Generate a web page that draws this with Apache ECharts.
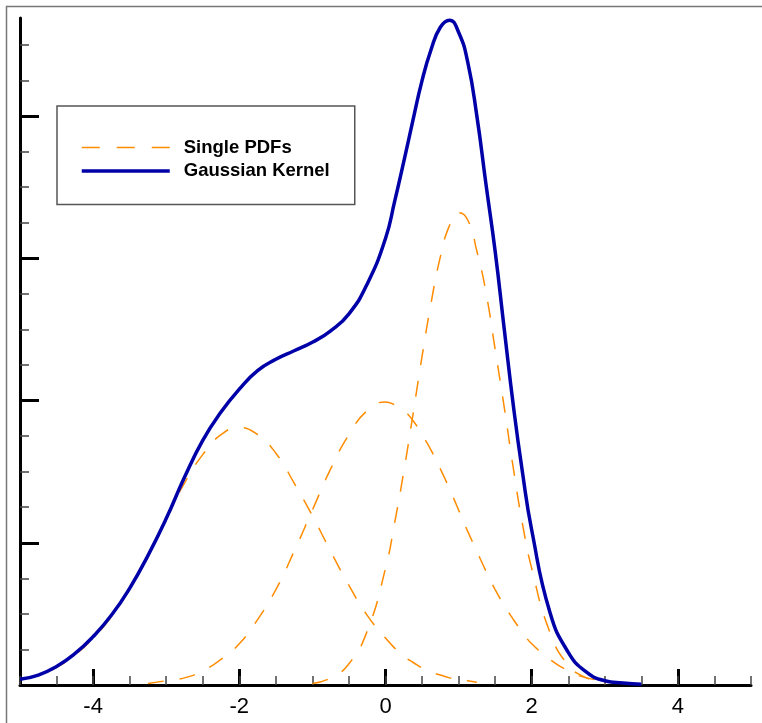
<!DOCTYPE html>
<html><head><meta charset="utf-8">
<script src="https://cdn.jsdelivr.net/npm/echarts@6/dist/echarts.min.js"></script>
<style>html,body{margin:0;padding:0;background:#fff}#c{width:762px;height:723px}</style>
</head><body><div id="c"></div>
<script>
// x positions (shared)
const xs = [-5,-4.75,-4.5,-4.25,-4,-3.75,-3.5,-3.25,-3,-2.75,-2.5,-2.25,-2,-1.75,-1.5,-1.25,-1,-0.75,-0.5,-0.25,0,
  0.125,0.25,0.375,0.5,0.625,0.75,0.875,1,1.125,1.25,1.375,1.5,1.625,1.75,1.875,2,
  2.25,2.5,2.75,3,3.25,3.5,3.75,4,4.25,4.5,4.75,5];
// single PDFs (dashed)
const pdfLeft = [0.004,0.007,0.0125,0.021,0.033,0.048,0.068,0.091,0.117,0.142,0.162,0.176,0.181,0.176,0.163,0.142,0.119,0.094,0.070,0.049,0.033,
  0.026,0.020,0.016,0.012,0.009,0.007,0.005,0.004,0.003,0.002,null,null,null,null,null,null,
  null,null,null,null,null,null,null,null,null,null,null,null];
const pdfMiddle = [null,null,null,null,null,null,null,0.001,0.003,0.005,0.010,0.018,0.029,0.046,0.067,0.094,0.123,0.152,0.176,0.193,0.199,
  0.197,0.193,0.186,0.176,0.165,0.152,0.138,0.123,0.108,0.094,0.080,0.067,0.056,0.046,0.037,0.029,
  0.018,0.010,0.005,0.003,0.001,null,null,null,null,null,null,null];
const pdfRight = [null,null,null,null,null,null,null,null,null,null,null,null,null,null,null,null,0.001,0.005,0.015,0.038,0.082,
  0.114,0.150,0.190,0.231,0.269,0.301,0.323,0.332,0.327,0.305,0.276,0.236,0.195,0.152,0.113,0.082,
  0.037,0.014,0.005,0.001,null,null,null,null,null,null,null,null];
// Gaussian kernel (solid)
const kernel = [0.004,0.007,0.013,0.022,0.034,0.049,0.068,0.091,0.117,0.146,0.172,0.192,0.208,0.221,0.229,0.235,0.241,0.249,0.261,0.282,0.314,
  0.340,0.368,0.397,0.425,0.447,0.4625,0.4675,0.459,0.438,0.400,0.352,0.305,0.250,0.196,0.149,0.109,
  0.051,0.023,0.009,0.003,0.0014,0.0005,null,null,null,null,null,null];
// ticks
const xMajorTicks = [-4,-2,0,2,4];
const yMajorTicks = [0.1,0.2,0.3,0.4];
const yMinorTicks = [0.025,0.05,0.075,0.125,0.15,0.175,0.225,0.25,0.275,0.325,0.35,0.375,0.425,0.45];

function pairs(ys){ const out=[]; xs.forEach((x,i)=>{ if(ys[i]!==null) out.push([x,ys[i]]); }); return out; }

const FONT = '"Liberation Sans", Arial, sans-serif';
const ORANGE = '#FF8C00', BLUE = '#0000A8';
const chart = echarts.init(document.getElementById('c'), null, {renderer:'canvas'});
const dashed = {color: ORANGE, width: 1.5, type: [16,16]};
function pdfSeries(ys){
  return {name:'Single PDFs', type:'line', xAxisIndex:0, yAxisIndex:0, data: pairs(ys), smooth:0.5,
    symbol:'none', lineStyle: dashed, itemStyle:{color: ORANGE}, silent:true, z:2};
}
chart.setOption({
  animation:false,
  backgroundColor:'#fff',
  graphic:[{type:'rect', left:4, top:4, shape:{width:800,height:800}, style:{fill:'none', stroke:'#777', lineWidth:1.5}, silent:true, z:-10}],
  grid:{left:20, right:11, top:18, bottom:38},
  legend:{
    data:[{name:'Single PDFs', lineStyle:{width:1.5, type:[18,17], color:ORANGE}},
          {name:'Gaussian Kernel', lineStyle:{width:3.5, color:BLUE}}],
    orient:'vertical', left:57, top:106,
    itemWidth:88, itemHeight:18, itemGap:4.5,
    padding:[32,25,24,23],
    backgroundColor:'#fff', borderColor:'#555', borderWidth:1.5,
    textStyle:{fontSize:18.5, fontWeight:'bold', color:'#000', fontFamily:FONT, padding:[0,0,0,9]},
    itemStyle:{opacity:0},
    selectedMode:false
  },
  xAxis:[
    {type:'value', min:-5, max:5, position:'bottom',
     axisLine:{show:true, onZero:false, lineStyle:{color:'#000', width:3}},
     axisTick:{show:true, inside:true, length:16, lineStyle:{color:'#000', width:3}, customValues:xMajorTicks},
     axisLabel:{show:true, customValues:xMajorTicks, fontSize:22, color:'#000', fontFamily:FONT, margin:11},
     splitLine:{show:false}},
    {type:'value', min:-5, max:5, interval:0.5, position:'bottom',
     axisLine:{show:false, onZero:false},
     axisTick:{show:true, inside:true, length:9, lineStyle:{color:'#444', width:1.5}},
     axisLabel:{show:false}, splitLine:{show:false}}
  ],
  yAxis:[
    {type:'value', min:0, max:0.469, position:'left',
     axisLine:{show:true, onZero:false, lineStyle:{color:'#000', width:3}},
     axisTick:{show:true, inside:true, length:19, lineStyle:{color:'#000', width:3}, customValues:yMajorTicks},
     axisLabel:{show:false}, splitLine:{show:false}},
    {type:'value', min:0, max:0.469, position:'left',
     axisLine:{show:false, onZero:false},
     axisTick:{show:true, inside:true, length:9, lineStyle:{color:'#444', width:1.5}, customValues:yMinorTicks},
     axisLabel:{show:false}, splitLine:{show:false}}
  ],
  series:[
    pdfSeries(pdfLeft), pdfSeries(pdfMiddle), pdfSeries(pdfRight),
    {name:'Gaussian Kernel', type:'line', xAxisIndex:0, yAxisIndex:0, data: pairs(kernel), smooth:0.5,
     symbol:'none', lineStyle:{color:BLUE, width:3.5}, itemStyle:{color:BLUE}, silent:true, z:3}
  ]
});
</script></body></html>
